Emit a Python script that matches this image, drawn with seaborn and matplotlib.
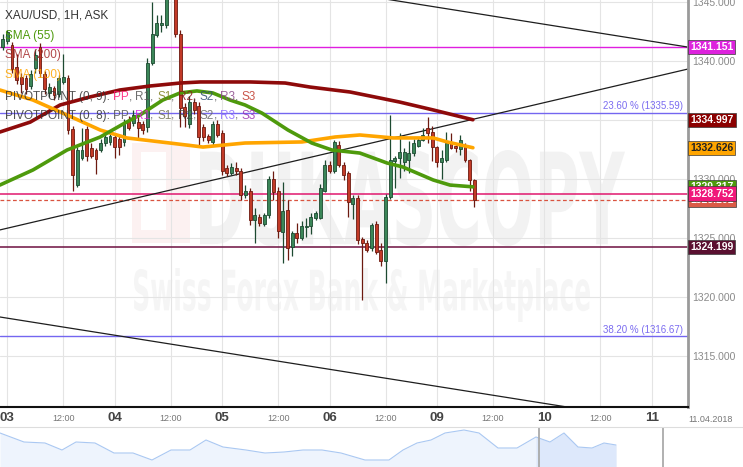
import numpy as np
import pandas as pd
import matplotlib
matplotlib.use("Agg")
import matplotlib.pyplot as plt
import matplotlib.transforms as mtransforms
from matplotlib.textpath import TextPath
from matplotlib.patches import PathPatch, Rectangle
from matplotlib.font_manager import FontProperties
import seaborn as sns

# ---- hourly candles (index 0 = 03.04 00:00, 23 bars per trading day) ----
hours = list(range(-1, 101))
opens = [1341.2, 1341.7, 1341.3, 1339.5, 1338.6, 1338.5, 1337.9, 1339.4, 1341.2, 1338.9,
         1337.3, 1337.7, 1337.2, 1338.2, 1338.5, 1334.2, 1329.5, 1331.8, 1334.2, 1332.6,
         1332.4, 1332.4, 1333.0, 1333.1, 1333.5, 1333.4, 1333.1, 1335.0, 1334.7, 1334.8,
         1334.6, 1334.4, 1339.8, 1342.2, 1343.0, 1343.0, 1345.6, 1346.2, 1342.3, 1336.1,
         1334.6, 1336.5, 1336.2, 1334.4, 1333.6, 1333.1, 1334.6, 1333.9, 1330.9, 1330.5,
         1330.9, 1330.7, 1328.6, 1329.0, 1326.5, 1326.8, 1326.2, 1326.9, 1330.0, 1329.0,
         1325.5, 1327.4, 1324.2, 1325.4, 1325.0, 1325.9, 1326.0, 1326.7, 1326.7, 1329.0,
         1331.2, 1330.7, 1332.9, 1331.2, 1330.5, 1327.9, 1328.4, 1324.9, 1324.6, 1324.1,
         1326.2, 1324.0, 1323.0, 1328.5, 1331.5, 1331.8, 1331.4, 1331.6, 1332.2, 1332.8,
         1333.3, 1334.3, 1334.0, 1332.7, 1331.4, 1331.6, 1333.0, 1332.8, 1332.5, 1332.7,
         1331.6, 1329.9]
highs = [1342.3, 1342.6, 1341.6, 1340.6, 1339.0, 1338.8, 1339.2, 1341.0, 1341.5, 1339.1,
         1338.1, 1337.9, 1338.8, 1340.6, 1338.8, 1334.5, 1332.7, 1334.3, 1334.5, 1333.0,
         1332.6, 1333.4, 1333.9, 1333.9, 1333.9, 1333.6, 1335.1, 1335.3, 1335.8, 1335.2,
         1334.9, 1340.2, 1345.0, 1343.9, 1343.9, 1345.8, 1347.0, 1346.8, 1342.6, 1336.4,
         1337.0, 1336.8, 1336.5, 1334.6, 1333.8, 1334.9, 1335.0, 1334.1, 1331.2, 1331.3,
         1331.4, 1330.9, 1329.5, 1329.2, 1327.5, 1327.0, 1327.1, 1330.2, 1330.7, 1329.3,
         1329.7, 1328.2, 1325.6, 1326.3, 1326.4, 1326.7, 1327.1, 1327.3, 1329.6, 1331.6,
         1331.5, 1333.3, 1333.2, 1331.4, 1330.7, 1328.6, 1328.6, 1325.1, 1324.8, 1326.3,
         1326.4, 1324.6, 1328.7, 1335.4, 1331.9, 1333.9, 1332.6, 1333.2, 1333.4, 1333.5,
         1334.3, 1335.2, 1334.5, 1332.8, 1332.4, 1334.0, 1333.9, 1332.9, 1333.7, 1333.0,
         1331.7, 1330.0]
lows = [1340.9, 1341.4, 1339.0, 1338.0, 1337.3, 1337.2, 1337.6, 1339.0, 1338.6, 1337.2,
        1336.9, 1336.7, 1336.9, 1338.0, 1333.8, 1329.0, 1329.3, 1331.6, 1331.5, 1331.8,
        1330.4, 1332.3, 1332.8, 1332.9, 1331.8, 1332.0, 1332.8, 1334.1, 1334.5, 1333.4,
        1333.8, 1334.0, 1339.6, 1342.0, 1342.4, 1342.8, 1345.2, 1342.0, 1334.4, 1334.4,
        1334.3, 1335.5, 1332.7, 1333.2, 1333.0, 1332.9, 1333.5, 1330.3, 1330.2, 1330.3,
        1330.3, 1328.2, 1328.4, 1326.1, 1324.6, 1326.0, 1326.0, 1326.7, 1328.2, 1325.0,
        1322.9, 1323.1, 1323.5, 1324.6, 1324.8, 1325.1, 1325.3, 1326.5, 1326.6, 1328.9,
        1330.5, 1330.5, 1331.0, 1329.9, 1326.8, 1326.6, 1324.5, 1319.7, 1323.8, 1323.9,
        1323.6, 1322.6, 1321.2, 1328.3, 1329.2, 1330.1, 1330.7, 1330.5, 1331.9, 1332.7,
        1333.2, 1333.0, 1331.5, 1331.0, 1330.0, 1331.4, 1332.5, 1332.3, 1332.0, 1331.4,
        1329.0, 1327.6]
closes = [1341.8, 1342.4, 1339.3, 1338.4, 1338.0, 1337.6, 1338.9, 1340.5, 1339.0, 1337.6,
          1337.8, 1337.1, 1338.5, 1338.6, 1334.1, 1330.3, 1332.4, 1332.4, 1331.9, 1331.9,
          1331.7, 1333.0, 1333.5, 1333.6, 1332.7, 1332.7, 1334.8, 1334.3, 1335.4, 1334.3,
          1334.1, 1339.8, 1342.3, 1343.2, 1343.2, 1345.3, 1346.5, 1342.3, 1336.0, 1335.3,
          1336.5, 1335.8, 1333.5, 1333.5, 1333.3, 1334.6, 1333.7, 1330.7, 1330.5, 1331.0,
          1330.7, 1328.6, 1329.0, 1326.5, 1326.9, 1326.3, 1326.9, 1330.0, 1328.9, 1325.6,
          1327.3, 1324.1, 1325.4, 1325.0, 1326.0, 1326.0, 1326.8, 1327.1, 1329.2, 1331.2,
          1330.7, 1333.1, 1331.2, 1330.3, 1328.0, 1328.4, 1324.8, 1324.6, 1324.0, 1326.1,
          1323.8, 1323.0, 1328.5, 1331.6, 1331.8, 1332.3, 1332.3, 1332.2, 1333.0, 1333.3,
          1333.7, 1333.9, 1332.7, 1331.4, 1331.8, 1333.0, 1332.6, 1332.6, 1333.3, 1331.6,
          1329.9, 1328.2]

# ---- moving averages (read at sample bars) ----
sma55_t = [-1.6, 5.5, 12.8, 19.9, 25.2, 28.4, 33.3, 37.0, 40.6, 44.0, 47.7, 50.9, 54.5,
           60.1, 65.2, 69.5, 75.5, 81.3, 84.7, 91.2, 94.8, 99.7]
sma55_v = [1329.47, 1330.75, 1332.44, 1333.54, 1334.73, 1335.40, 1336.67, 1337.27, 1337.44,
           1337.27, 1336.67, 1336.25, 1335.57, 1334.13, 1333.03, 1332.44, 1332.18, 1331.34,
           1331.00, 1329.90, 1329.47, 1329.32]
sma100_t = [-1.6, 5.5, 12.8, 19.9, 25.6, 34.8, 41.9, 50.9, 63.1, 70.2, 75.5, 82.6, 91.2, 94.2, 99.7]
sma100_v = [1337.52, 1336.67, 1335.40, 1334.13, 1333.46, 1333.03, 1332.69, 1333.03, 1333.12,
            1333.54, 1333.71, 1333.46, 1333.46, 1333.12, 1332.63]
sma200_t = [-1.6, 4.9, 11.3, 17.7, 24.1, 30.6, 37.0, 41.3, 52.0, 59.5, 64.8, 73.4, 79.8,
            84.0, 91.2, 99.7]
sma200_v = [1333.96, 1334.80, 1336.25, 1336.93, 1337.52, 1337.86, 1338.11, 1338.20, 1338.20,
            1338.11, 1337.77, 1337.35, 1336.84, 1336.50, 1335.83, 1335.00]

# ---- trend lines: (t0, p0, t1, p1) ----
trend_lines = [(60.0, 1346.54, 145.8, 1341.15),
               (-1.6, 1325.67, 145.8, 1339.30),
               (-1.6, 1318.30, 145.8, 1309.05)]

# ---- levels ----
fib_levels = [(1335.59, "23.60 % (1335.59)"), (1316.67, "38.20 % (1316.67)")]
level_magenta = 1341.151
level_ask = 1328.752
level_last = 1328.201
level_support = 1324.199
sma_last = [1334.997, 1332.626, 1329.317]

day_ticks = [0, 23, 46, 69, 92, 115, 138]
day_labels = ["03", "04", "05", "06", "09", "10", "11"]
noon_ticks = [12, 35, 58, 81, 104, 127]
price_ticks = [1315, 1320, 1325, 1330, 1335, 1340, 1345]

# navigator overview series (x in px of overview strip, height value)
nav_x = [0, 24, 45, 62, 76, 95, 114, 133, 152, 171, 190, 206, 223, 246, 265, 284, 303,
         322, 341, 365, 389, 403, 417, 431, 445, 464, 479, 498, 517, 536, 550, 564, 578,
         592, 604, 616]
nav_v = [34, 25, 24, 17, 25, 24, 14, 14, 7, 17, 17, 27, 20, 17, 14, 15, 17, 17, 14, 7, 7,
         17, 24, 27, 34, 37, 34, 19, 19, 30, 25, 34, 20, 19, 24, 22]

sns.set_style("white")
plt.rcParams['font.family'] = ['Liberation Sans', 'DejaVu Sans']

W, H = 743, 467
fig = plt.figure(figsize=(W / 100, H / 100), dpi=100)
ax = fig.add_axes([0, 60 / H, 688 / W, 407 / H])

# pixel helpers (for placing decorations only)
def px_t(x):
    return (x - 7.3) / 4.67

def px_p(y):
    return 1345.14 - y / 11.81

ax.set_xlim(px_t(0), px_t(688))
ax.set_ylim(px_p(407), px_p(0))

# watermark
def fit_text(s, x0, x1, y0, y1, color, weight="bold"):
    tp = TextPath((0, 0), s, size=10, prop=FontProperties(family="DejaVu Sans", weight=weight))
    ext = tp.get_extents()
    tr = (mtransforms.Affine2D().translate(-ext.x0, -ext.y0)
          .scale((px_t(x1) - px_t(x0)) / ext.width, (px_p(y0) - px_p(y1)) / ext.height)
          .translate(px_t(x0), px_p(y1)))
    ax.add_patch(PathPatch(tr.transform_path(tp), fc=color, ec="none", zorder=0.3))

ax.add_patch(Rectangle((px_t(132), px_p(243)), px_t(190) - px_t(132), px_p(143) - px_p(243),
                       fc="#fcf1f1", ec="none", zorder=0.3))
ax.add_patch(Rectangle((px_t(141), px_p(230)), px_t(166) - px_t(141), px_p(152) - px_p(230),
                       fc="white", ec="none", zorder=0.31))
fit_text("DUKASCOPY", 200, 625, 150, 246, "#f2f2f2")
fit_text("Swiss Forex Bank & Marketplace", 134, 590, 268, 322, "#f5f5f5")

# grid
ax.set_axisbelow(True)
all_ticks = sorted(day_ticks + noon_ticks)
all_labels = [day_labels[day_ticks.index(t)] if t in day_ticks else "12:00" for t in all_ticks]
ax.set_xticks(all_ticks, all_labels)
ax.set_yticks(price_ticks, [f"{v:.3f}" for v in price_ticks])
ax.grid(True, color="#e4e4e4", lw=0.8)
ax.yaxis.tick_right()
ax.tick_params(axis="y", length=0, pad=3, labelsize=7.5, labelcolor="#8a8a8a")
ax.tick_params(axis="x", length=0, pad=8)
for lab in ax.get_xticklabels():
    lab.set_va("center")
    if lab.get_text() == "12:00":
        lab.set_fontsize(6.5)
        lab.set_color("#777777")
    else:
        lab.set_fontsize(9.5)
        lab.set_color("#444444")
        lab.set_fontweight("bold")

for s in ["left", "top"]:
    ax.spines[s].set_visible(False)
ax.spines["right"].set_color("#9a9a9a")
ax.spines["right"].set_linewidth(2)
ax.spines["bottom"].set_color("#111111")
ax.spines["bottom"].set_linewidth(1.5)

# horizontal levels
ax.axhline(level_magenta, color="#e01ee0", lw=1.0, zorder=2)
for p, txt in fib_levels:
    ax.axhline(p, color="#7466f0", lw=1.0, zorder=2)
    ax.text(px_t(683), p + 0.12, txt, ha="right", va="bottom", fontsize=7, color="#7b6cf0", zorder=6)
ax.axhline(level_ask, color="#e0176e", lw=1.1, zorder=2)
ax.axhline(level_last, color="#d9533f", lw=0.9, ls=(0, (3, 2)), zorder=2)
ax.axhline(level_support, color="#6d1040", lw=1.1, zorder=2)

# trend lines
for t0, p0, t1, p1 in trend_lines:
    ax.plot([t0, t1], [p0, p1], color="#1e1e1e", lw=0.9, zorder=2.5)

# candles
df = pd.DataFrame(dict(t=hours, o=opens, h=highs, l=lows, c=closes))
up = df.c >= df.o
for mask, fc, ec in [(up, "#3b8658", "#1d4a31"), (~up, "#c23a27", "#6c1a10")]:
    d = df[mask]
    ax.vlines(d.t, d.l, d.h, color=ec, lw=0.9, zorder=3)
    ax.bar(d.t, np.maximum((d.c - d.o).abs(), 0.08), bottom=np.minimum(d.o, d.c),
           width=0.62, color=fc, edgecolor=ec, lw=0.6, zorder=4)

# moving averages
sns.lineplot(x=sma200_t, y=sma200_v, ax=ax, color="#8e0a0a", lw=2.6, sort=False, zorder=5)
sns.lineplot(x=sma100_t, y=sma100_v, ax=ax, color="#ffa500", lw=2.6, sort=False, zorder=5)
sns.lineplot(x=sma55_t, y=sma55_v, ax=ax, color="#4e9a0c", lw=2.6, sort=False, zorder=5)

# price labels on the right axis
btr = mtransforms.blended_transform_factory(ax.transAxes, ax.transData)

def price_box(p, fc, tc):
    ax.text(1.003, p, f"{p:.3f}", transform=btr, ha="left", va="center", fontsize=7.5,
            color=tc, fontweight="bold", clip_on=False, zorder=10,
            bbox=dict(boxstyle="square,pad=0.2", fc=fc, ec="#3a3a3a", lw=0.5))

price_box(level_magenta, "#dd22dd", "white")
price_box(sma_last[0], "#8b0000", "white")
price_box(sma_last[1], "#ffa500", "#222222")
price_box(sma_last[2], "#4e9a0c", "white")
price_box(level_last, "#db5a46", "white")
price_box(level_ask, "#f0187a", "white")
price_box(level_support, "#5a1030", "white")

# legend texts
def ytop(y):
    return 1 - y / 407

x0 = 5 / 688
ax.text(x0, ytop(15), "XAU/USD, 1H, ASK", transform=ax.transAxes, fontsize=8.5, color="#333333",
        va="center", zorder=7)
ax.text(x0, ytop(36), "SMA (55)", transform=ax.transAxes, fontsize=8.5, color="#4e9a0c",
        va="center", zorder=7)
ax.text(x0, ytop(55), "SMA (200)", transform=ax.transAxes, fontsize=8.5, color="#a52a2a",
        va="center", zorder=7, alpha=0.85)
ax.text(x0, ytop(75), "SMA (100)", transform=ax.transAxes, fontsize=8.5, color="#ffa500",
        va="center", zorder=7, alpha=0.85)

def pivot_line(y, head, parts):
    prev = ax.text(x0, ytop(y), head, transform=ax.transAxes, fontsize=8.5, color="#333333",
                   va="baseline", zorder=7, alpha=0.85)
    for txt, col in parts:
        prev = ax.annotate(txt, xy=(1, 0), xycoords=prev, fontsize=8.5, color=col,
                           va="bottom", ha="left", zorder=7, alpha=0.85)

pivot_line(100, "PIVOTPOINT (0, 9): ",
           [("PP", "#ff1a75"), (", ", "#555555"), ("R1", "#555555"), (", ", "#555555"),
            ("S1", "#808020"), (", ", "#555555"), ("R2", "#8b1a1a"), (", ", "#555555"),
            ("S2", "#2f4f6f"), (", ", "#555555"), ("R3", "#8b4a8b"), (", ", "#555555"),
            ("S3", "#c0392b")])
pivot_line(119, "PIVOTPOINT (0, 8): ",
           [("PP", "#555555"), (", ", "#555555"), ("R1", "#e020e0"), (", ", "#555555"),
            ("S1", "#707050"), (", ", "#555555"), ("R2", "#444444"), (", ", "#555555"),
            ("S2", "#666666"), (", ", "#555555"), ("R3", "#8a6aff"), (", ", "#555555"),
            ("S3", "#9b30b0")])

fig.text(711 / W, 1 - 420 / H, "11.04.2018", fontsize=6.5, color="#777777", ha="center", va="center")

# navigator strip
nav = fig.add_axes([0, 0, 1, 40 / H])
nav.set_xlim(0, W)
nav.set_ylim(0, 40)
nav.fill_between(nav_x, nav_v, 0, color="#eef4fd", lw=0)
sel = [(x, v) for x, v in zip(nav_x, nav_v) if x >= 536]
nav.fill_between([s[0] for s in sel], [s[1] for s in sel], 0, color="#dde8fb", lw=0)
sns.lineplot(x=nav_x, y=nav_v, ax=nav, color="#aac8f2", lw=0.8, sort=False)
nav.axvline(539, color="#aaaaaa", lw=1.3)
nav.axvline(663, color="#aaaaaa", lw=1.3)
nav.set_xticks([])
nav.set_yticks([])
for s in ["left", "right", "bottom"]:
    nav.spines[s].set_visible(False)
nav.spines["top"].set_color("#dddddd")

fig.savefig("out.png", dpi=100)
